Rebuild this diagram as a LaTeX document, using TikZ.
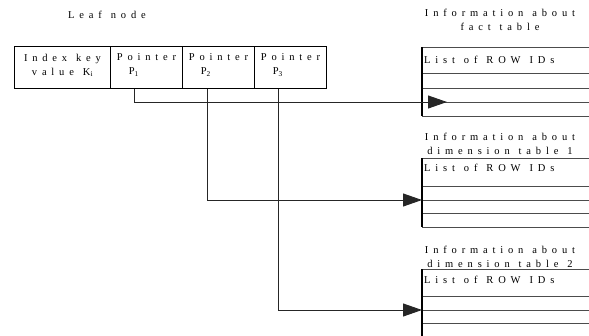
\documentclass[tikz,border=0pt]{standalone}
\usepackage{fontspec}
\setmainfont{Liberation Serif}[LetterSpace=46,WordSpace=1.2]
\usetikzlibrary{arrows.meta}
\begin{document}
\begin{tikzpicture}[x=1pt,y=-1pt,
  every node/.style={font=\fontsize{10.5}{14}\selectfont, inner sep=0pt},
  cell/.style={draw, line width=1pt, minimum height=42pt, anchor=north west, text depth=6pt},
  ptrcell/.style={cell, align=left, minimum width=72pt},
  ptr/.style={draw=black!85, line width=0.9pt, -{Triangle[length=19pt,width=13pt]}},
  row/.style={draw=black!70, line width=0.9pt},
  edge/.style={line width=1.8pt}]
\clip (0,0) rectangle (589,335);
% leaf node
\node (leaf) at (107,15) {Leaf node};
\node[cell, minimum width=96pt, align=center] (key) at (14,46) {Index key\\value K\textsubscript{i}};
\node[ptrcell] (p1) at (110,46) {Pointer\\\hspace*{12pt}P\textsubscript{1}};
\node[ptrcell] (p2) at (182,46) {Pointer\\\hspace*{12pt}P\textsubscript{2}};
\node[ptrcell] (p3) at (254,46) {Pointer\\\hspace*{12pt}P\textsubscript{3}};
% fact table
\node[align=center] (facthead) at (500,20) {Information about\\fact table};
\foreach \y in {47,73,88,102,116} \draw[row] (422,\y) -- (589,\y);
\draw[edge] (422,47) -- (422,116);
\node[anchor=west] (factlist) at (424,60) {List of ROW IDs};
\coordinate (factrow) at (447,102);
% dimension table 1
\node[align=center] (dimhead1) at (500,144) {Information about\\dimension table 1};
\foreach \y in {158,186,200,213,227} \draw[row] (422,\y) -- (589,\y);
\draw[edge] (422,158) -- (422,227);
\node[anchor=west] (dimlist1) at (424,168) {List of ROW IDs};
\coordinate (dimrow1) at (422,200);
% dimension table 2
\node[align=center] (dimhead2) at (500,257) {Information about\\dimension table 2};
\foreach \y in {269,296,310,323,337} \draw[row] (422,\y) -- (589,\y);
\draw[edge] (422,269) -- (422,337);
\node[anchor=west] (dimlist2) at (424,280) {List of ROW IDs};
\coordinate (dimrow2) at (422,310);
% pointers
\draw[ptr] ([xshift=24pt]p1.south west) |- (factrow);
\draw[ptr] ([xshift=25pt]p2.south west) |- (dimrow1);
\draw[ptr] ([xshift=24pt]p3.south west) |- (dimrow2);
\end{tikzpicture}
\end{document}
